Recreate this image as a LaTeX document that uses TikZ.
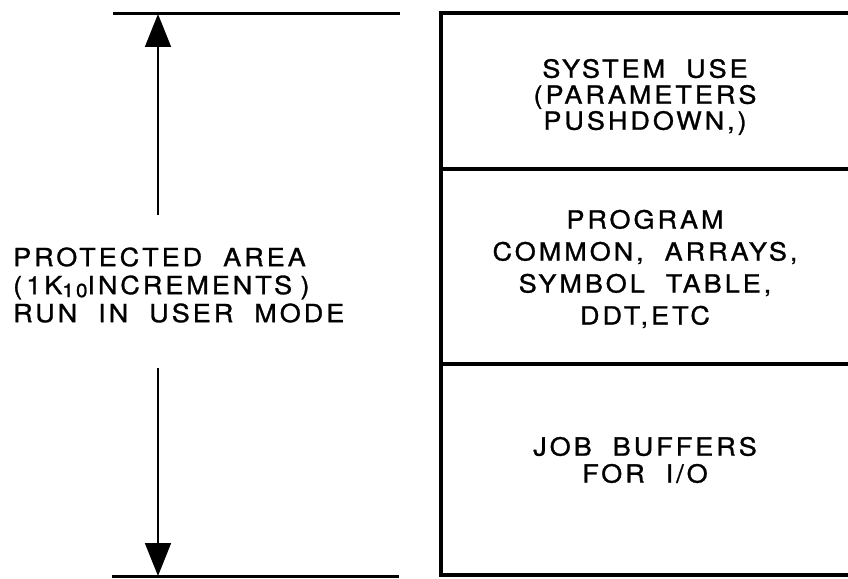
\documentclass[tikz,border=0pt]{standalone}
\usepackage{fontspec}
\usetikzlibrary{arrows.meta}
\newfontfamily\lettr[FakeStretch=1.08,LetterSpace=12,WordSpace=2,FakeBold=1.1]{TeX Gyre Heros}
\tikzset{
  rule/.style={line width=3pt},
  cell/.style={line width=3.4pt},
  dimarrow/.style={line width=1.8pt,-{Triangle[length=33pt,width=26pt]}},
  lettering/.style={align=center,inner sep=0pt}
}
\begin{document}
\begin{tikzpicture}[x=1pt,y=-1pt]
  \useasboundingbox (0,0) rectangle (848,578);

  % extent of the protected area
  \draw[rule] (113,14) -- (400,14);
  \draw[rule] (112,576) -- (399,576);
  \coordinate (topend) at (158,14);
  \coordinate (botend) at (158,576);
  \coordinate (upgap) at (158,215);
  \coordinate (lowgap) at (158,368);

  \node[lettering,align=left,anchor=west,
    font=\lettr\fontsize{25}{28}\selectfont] (area) at (13,285)
    {PROTECTED AREA\\
     (\,1K\raisebox{-3pt}{\fontsize{19}{19}\selectfont 10}INCREMENTS\,\,)\\
     RUN IN USER MODE};
  \draw[dimarrow] (upgap) -- (topend);
  \draw[dimarrow] (lowgap) -- (botend);

  % memory layout, right edge runs off the page
  \draw[cell] (441,13) rectangle (880,575);
  \draw[cell] (441,169) -- +(440,0);
  \draw[cell] (441,364) -- +(440,0);

  \node[lettering,font=\lettr\fontsize{25}{26}\selectfont] (sysuse) at (645,97)
    {SYSTEM USE\\(PARAMETERS\\PUSHDOWN,)};
  \node[lettering,font=\lettr\fontsize{25}{32}\selectfont] (prog) at (645,269)
    {PROGRAM\\COMMON, ARRAYS,\\SYMBOL TABLE,\\DDT,ETC};
  \node[lettering,font=\lettr\fontsize{25}{27}\selectfont] (jobbuf) at (645,460)
    {JOB BUFFERS\\FOR I/O};
\end{tikzpicture}
\end{document}
